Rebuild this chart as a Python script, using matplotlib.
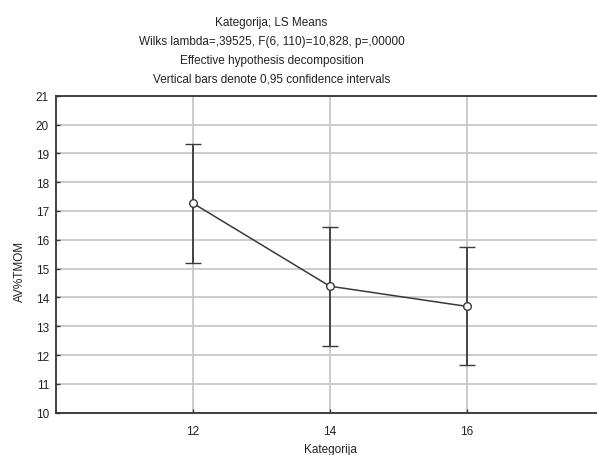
import numpy as np
import matplotlib.pyplot as plt

plt.rcParams['font.family'] = ['Liberation Sans', 'DejaVu Sans']

# LS means with 0.95 confidence intervals
kategorija = [12, 14, 16]
ls_mean = [17.27, 14.39, 13.69]
ci_upper = [19.33, 16.44, 15.76]
ci_lower = [15.21, 12.32, 11.64]

title_lines = [
    'Kategorija; LS Means',
    'Wilks lambda=,39525, F(6, 110)=10,828, p=,00000',
    'Effective hypothesis decomposition',
    'Vertical bars denote 0,95 confidence intervals',
]

W, H = 597, 456
fig = plt.figure(figsize=(W / 100, H / 100), dpi=100)

# axes extends a little past the right edge, like the original crop
left, right, top, bottom = 56, 603.5, 96.7, 413.7
ax = fig.add_axes([left / W, 1 - bottom / H, (right - left) / W, (bottom - top) / H])

x = np.array(kategorija)
y = np.array(ls_mean)
yerr = np.vstack([y - np.array(ci_lower), np.array(ci_upper) - y])

ax.errorbar(x, y, yerr=yerr, color='#3a3a3a', lw=1.1, elinewidth=1.3,
            capsize=5.5, capthick=1.3, marker='o', ms=5.5,
            mfc='white', mec='#3a3a3a', mew=1.0, zorder=3)

ax.set_xlim(10, 18)
ax.set_ylim(10, 21)
ax.set_xticks(kategorija)
ax.set_yticks(range(10, 22))
ax.grid(True, color='#c8c8c8', lw=1.3)
ax.set_axisbelow(True)
ax.tick_params(direction='in', length=3, width=1, color='#333333',
               labelsize=8.5, labelcolor='#222222')
ax.tick_params(axis='x', pad=9)
ax.tick_params(axis='y', pad=5)
for s in ['top', 'bottom', 'left', 'right']:
    ax.spines[s].set_color('#333333')
    ax.spines[s].set_linewidth(1.3)

# titles
for i, line in enumerate(title_lines):
    fig.text(271.5 / W, 1 - (23 + i * 18.8) / H, line, ha='center', va='center',
             fontsize=8.5, color='#222222')

fig.text(330 / W, 1 - 450 / H, 'Kategorija', ha='center', va='center',
         fontsize=8.5, color='#222222')
fig.text(20 / W, 1 - 271 / H, 'AV%TMOM', ha='center', va='center',
         rotation=90, fontsize=8.5, color='#222222')

fig.savefig('out.png', dpi=100)
